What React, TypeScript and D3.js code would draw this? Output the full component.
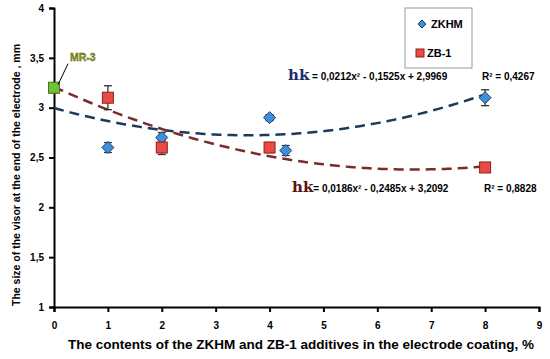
import * as d3 from 'd3';
import { useEffect, useRef } from 'react';

// ── Data ────────────────────────────────────────────────────────────────────
const zkhmX = [1, 2, 4, 4.3, 8];
const zkhmY = [2.6, 2.7, 2.9, 2.57, 3.1];
const zkhmErr = [0.05, 0.05, 0.03, 0.05, 0.08];

const zb1X = [1, 2, 4, 8];
const zb1Y = [3.1, 2.6, 2.6, 2.4];
const zb1Err = [0.12, 0.07, 0.05, 0.04];

const mr3 = { x: 0, y: 3.2, err: 0.05 };

const zkhmFit = [0.0212, -0.1525, 2.9969];
const zb1Fit = [0.0186, -0.2485, 3.2092];

const xTicks = [0, 1, 2, 3, 4, 5, 6, 7, 8, 9];
const yTicks = [1, 1.5, 2, 2.5, 3, 3.5, 4];

const W = 550;
const H = 359;
const margin = { top: 8, right: 11, bottom: 52, left: 54 };

const App = () => {
  const svgRef = useRef(null);

  useEffect(() => {
    const svg = d3.select(svgRef.current);
    svg.selectAll('*').remove();

    const width = W - margin.left - margin.right;
    const height = H - margin.top - margin.bottom;
    const g = svg.append('g').attr('transform', `translate(${margin.left},${margin.top})`);

    const x = d3.scaleLinear().domain([0, 9]).range([0, width]);
    const y = d3.scaleLinear().domain([1, 4]).range([height, 0]);
    const fmt = (d: number) => String(d).replace('.', ',');
    const font = '"Liberation Sans", Arial, sans-serif';

    // ── Axes ──────────────────────────────────────────────────────────────
    const xAxis = g
      .append('g')
      .attr('transform', `translate(0,${height})`)
      .call(d3.axisBottom(x).tickValues(xTicks).tickSize(5).tickPadding(10).tickFormat(d => fmt(+d)));
    const yAxis = g.append('g').call(d3.axisLeft(y).tickValues(yTicks).tickSize(5).tickPadding(5).tickFormat(d => fmt(+d)));

    [xAxis, yAxis].forEach(ax => {
      ax.select('.domain').attr('stroke', '#000').attr('stroke-width', 2);
      ax.selectAll('.tick line').attr('stroke', '#000').attr('stroke-width', 2);
      ax.selectAll('.tick text').attr('font-family', font).attr('font-weight', 'bold').attr('font-size', 10).attr('fill', '#000');
    });

    svg
      .append('text')
      .attr('x', 301)
      .attr('y', 349)
      .attr('text-anchor', 'middle')
      .attr('font-family', font)
      .attr('font-weight', 'bold')
      .attr('font-size', 13.5)
      .text('The contents of the ZKHM and ZB-1 additives in the electrode coating,  %');

    svg
      .append('text')
      .attr('transform', 'rotate(-90)')
      .attr('x', -175)
      .attr('y', 20)
      .attr('text-anchor', 'middle')
      .attr('font-family', font)
      .attr('font-weight', 'bold')
      .attr('font-size', 10.5)
      .text('The size of the visor at the end of the electrode ,    mm');

    // ── Trend lines ───────────────────────────────────────────────────────
    const quad = (c: number[]) => (v: number) => c[0] * v * v + c[1] * v + c[2];
    const xs = d3.range(0, 8.01, 0.1);
    const line = d3
      .line<number>()
      .x(d => x(d))
      .curve(d3.curveMonotoneX);

    g.append('path')
      .attr('d', line.y(d => y(quad(zkhmFit)(d)))(xs))
      .attr('fill', 'none')
      .attr('stroke', '#1d3a5c')
      .attr('stroke-width', 2.5)
      .attr('stroke-dasharray', '10 6');

    g.append('path')
      .attr('d', line.y(d => y(quad(zb1Fit)(d)))(xs))
      .attr('fill', 'none')
      .attr('stroke', '#7a2b2b')
      .attr('stroke-width', 2.5)
      .attr('stroke-dasharray', '10 6');

    // ── Error bars ────────────────────────────────────────────────────────
    const errBar = (px: number, py: number, e: number) => {
      const eg = g.append('g').attr('stroke', '#333').attr('stroke-width', 1.3);
      eg.append('line').attr('x1', x(px)).attr('x2', x(px)).attr('y1', y(py - e)).attr('y2', y(py + e));
      [py - e, py + e].forEach(v => {
        eg.append('line').attr('x1', x(px) - 4).attr('x2', x(px) + 4).attr('y1', y(v)).attr('y2', y(v));
      });
    };
    zkhmX.forEach((d, i) => errBar(d, zkhmY[i], zkhmErr[i]));
    zb1X.forEach((d, i) => errBar(d, zb1Y[i], zb1Err[i]));
    errBar(mr3.x, mr3.y, mr3.err);

    // ── Markers ───────────────────────────────────────────────────────────
    const diamond = (sel: any, cx: number, cy: number, s: number) =>
      sel
        .append('path')
        .attr('d', `M${cx},${cy - s}L${cx + s},${cy}L${cx},${cy + s}L${cx - s},${cy}Z`)
        .attr('fill', '#3f8fdc')
        .attr('stroke', '#1b3f6a')
        .attr('stroke-width', 1);
    const square = (sel: any, cx: number, cy: number, s: number, fill: string, stroke: string) =>
      sel
        .append('rect')
        .attr('x', cx - s)
        .attr('y', cy - s)
        .attr('width', 2 * s)
        .attr('height', 2 * s)
        .attr('fill', fill)
        .attr('stroke', stroke)
        .attr('stroke-width', 1);

    zkhmX.forEach((d, i) => diamond(g, x(d), y(zkhmY[i]), 6));
    zb1X.forEach((d, i) => square(g, x(d), y(zb1Y[i]), 5.5, '#ea4a44', '#8a1f1c'));
    square(g, x(mr3.x), y(mr3.y), 5.5, '#6cc23c', '#5a6a10');

    // MR-3 label
    g.append('line')
      .attr('x1', x(mr3.x) + 4)
      .attr('y1', y(mr3.y) - 3)
      .attr('x2', x(mr3.x) + 14)
      .attr('y2', y(mr3.y) - 24)
      .attr('stroke', '#000')
      .attr('stroke-width', 1);
    g.append('text')
      .attr('x', x(mr3.x) + 16)
      .attr('y', y(mr3.y) - 27)
      .attr('font-family', font)
      .attr('font-weight', 'bold')
      .attr('font-size', 10.5)
      .attr('fill', '#8c9a12')
      .attr('stroke', '#3d4a00')
      .attr('stroke-width', 0.3)
      .text('MR-3');

    // ── Equations ─────────────────────────────────────────────────────────
    const equation = (px: number, py: number, txt: string, r2: string, rx: number, color: string) => {
      const t = svg.append('text').attr('x', px).attr('y', py).attr('fill', color);
      t.append('tspan').attr('font-family', '"DejaVu Serif", "Liberation Serif", serif').attr('font-weight', 'bold').attr('font-size', 15).text('hk');
      t.append('tspan').attr('font-family', font).attr('font-weight', 'bold').attr('font-size', 10).attr('fill', '#000').text(txt);
      svg
        .append('text')
        .attr('x', rx)
        .attr('y', py)
        .attr('font-family', font)
        .attr('font-weight', 'bold')
        .attr('font-size', 10)
        .text(r2);
    };
    equation(288, 80, ' = 0,0212x² - 0,1525x + 2,9969', 'R² = 0,4267', 482, '#1a2c6e');
    equation(292, 192, '= 0,0186x² - 0,2485x + 3,2092', 'R² = 0,8828', 484, '#5a1414');

    // ── Legend ────────────────────────────────────────────────────────────
    const lg = svg.append('g');
    lg.append('rect').attr('x', 405).attr('y', 8).attr('width', 67).attr('height', 60).attr('fill', '#fff').attr('stroke', '#999');
    diamond(lg, 422, 24, 4);
    lg.append('text').attr('x', 431).attr('y', 28).attr('font-family', font).attr('font-weight', 'bold').attr('font-size', 11).text('ZKHM');
    square(lg, 420, 53, 4, '#ea4a44', '#8a1f1c');
    lg.append('text').attr('x', 427).attr('y', 57).attr('font-family', font).attr('font-weight', 'bold').attr('font-size', 11).text('ZB-1');
  }, []);

  return (
    <svg
      ref={svgRef}
      width={W}
      height={H}
      style={{ position: 'absolute', left: 0, top: 0, background: '#fff' }}
    />
  );
};

export default App;
